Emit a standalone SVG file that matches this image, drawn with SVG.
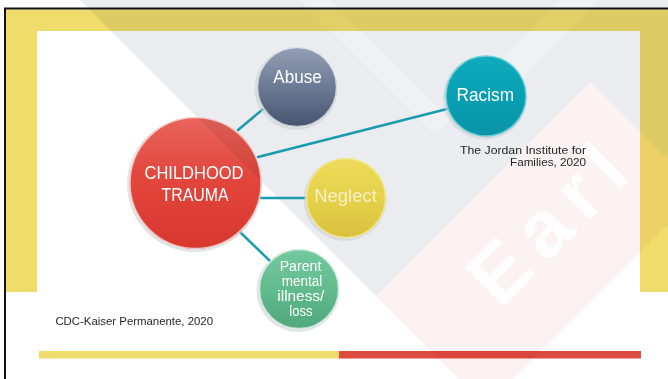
<svg xmlns="http://www.w3.org/2000/svg" width="668" height="379" viewBox="0 0 668 379">
<defs>
<style>
.lbl{font-family:"Liberation Sans",Arial,sans-serif;fill:#ffffff;text-anchor:middle}
.cite{font-family:"Liberation Sans",Arial,sans-serif;fill:#262626;font-size:11.5px}
.conn{stroke:#1b9bb0;stroke-width:2.5;fill:none;stroke-linecap:round}
.rim{fill:none;stroke:#ffffff;stroke-opacity:0.65;stroke-width:1.5}
.shadow{fill:#c9ced4;opacity:0.55}
</style>
<linearGradient id="gRed" x1="0" y1="0" x2="0" y2="1">
<stop offset="0" stop-color="#e9655c"/><stop offset="0.45" stop-color="#e2463c"/><stop offset="1" stop-color="#d8382d"/>
</linearGradient>
<linearGradient id="gAbuse" x1="0" y1="0" x2="0" y2="1">
<stop offset="0" stop-color="#939fb6"/><stop offset="0.5" stop-color="#6c7a94"/><stop offset="1" stop-color="#46556f"/>
</linearGradient>
<linearGradient id="gRacism" x1="0" y1="0" x2="0" y2="1">
<stop offset="0" stop-color="#12aabd"/><stop offset="0.5" stop-color="#07a0b3"/><stop offset="1" stop-color="#0a93a6"/>
</linearGradient>
<linearGradient id="gNeglect" x1="0" y1="0" x2="0" y2="1">
<stop offset="0" stop-color="#ecdb5a"/><stop offset="0.5" stop-color="#e5d14a"/><stop offset="1" stop-color="#d9c23e"/>
</linearGradient>
<linearGradient id="gParent" x1="0" y1="0" x2="0" y2="1">
<stop offset="0" stop-color="#74c9a0"/><stop offset="0.5" stop-color="#62bb8e"/><stop offset="1" stop-color="#4fa77c"/>
</linearGradient>
<clipPath id="cRed"><circle cx="195.5" cy="183" r="66"/></clipPath>
</defs>

<g id="background">
<rect x="0" y="0" width="668" height="379" fill="#ffffff"/>
<rect x="6" y="9.5" width="662" height="282.5" fill="#f0dc6b"/>
<rect x="37" y="31" width="603" height="261" fill="#ffffff"/>
<path d="M5,379 V8.5 H668" fill="none" stroke="#111111" stroke-width="2"/>
<rect x="39" y="351" width="300" height="7.5" fill="#efdb6a"/>
<rect x="339" y="351" width="302" height="7.5" fill="#dd4a3f"/>
<g style="mix-blend-mode:multiply">
<polygon points="80,0 668,0 668,224 513,379 459,379" fill="#ebecef"/>
<polygon points="376,296 590,82 700,192 486,406" fill="#fcf2f2"/>
<polygon points="300,0 330,0 450,120 435,135" fill="#ffffff" opacity="0.25"/>
<polygon points="560,0 600,0 520,80 500,60" fill="#ffffff" opacity="0.25"/>
<text x="0" y="0" transform="translate(500,310) rotate(-45)" font-family="Liberation Sans, Arial, sans-serif" font-weight="bold" font-size="80" letter-spacing="12" fill="#ffffff" fill-opacity="0.85">Earl</text>
</g>
</g>

<g id="connectors">
<line class="conn" x1="238" y1="130" x2="268" y2="105"/>
<line class="conn" x1="258" y1="157" x2="447" y2="109"/>
<line class="conn" x1="261" y1="198" x2="307" y2="198"/>
<line class="conn" x1="240" y1="232" x2="271" y2="262"/>
</g>

<g id="node-trauma">
<circle class="shadow" cx="194.5" cy="184.5" r="67.5"/>
<circle cx="195.5" cy="183" r="66" fill="url(#gRed)"/>
<polygon points="80,0 420,0 420,340" fill="#000000" opacity="0.06" clip-path="url(#cRed)"/>
<circle class="rim" cx="195.5" cy="183" r="65.5"/>
<text class="lbl" x="194" y="179" font-size="19" textLength="99" lengthAdjust="spacingAndGlyphs">CHILDHOOD</text>
<text class="lbl" x="195" y="201" font-size="19" textLength="67" lengthAdjust="spacingAndGlyphs">TRAUMA</text>
</g>

<g id="node-abuse">
<circle class="shadow" cx="296" cy="88.5" r="41.5"/>
<circle cx="297" cy="87" r="40" fill="url(#gAbuse)"/>
<circle class="rim" cx="297" cy="87" r="39.5"/>
<text class="lbl" x="297.5" y="82.5" font-size="17.5" textLength="48.5" lengthAdjust="spacingAndGlyphs">Abuse</text>
</g>

<g id="node-racism">
<circle class="shadow" cx="485" cy="97.5" r="42"/>
<circle cx="486" cy="96" r="40.5" fill="url(#gRacism)"/>
<circle cx="486" cy="96" r="40" fill="none" stroke="#8fe3ec" stroke-opacity="0.7" stroke-width="1.5"/>
<text class="lbl" x="485.3" y="100.7" font-size="18.5" textLength="57.5" lengthAdjust="spacingAndGlyphs">Racism</text>
</g>

<g id="node-neglect">
<circle class="shadow" cx="345" cy="199.5" r="41.5"/>
<circle cx="346" cy="198" r="40" fill="url(#gNeglect)"/>
<circle cx="346" cy="198" r="39.5" fill="none" stroke="#f6ec9c" stroke-opacity="0.8" stroke-width="1.5"/>
<text class="lbl" x="345.5" y="202" font-size="18" style="fill:#f5f0c6" textLength="62.5" lengthAdjust="spacingAndGlyphs">Neglect</text>
</g>

<g id="node-parent">
<circle class="shadow" cx="298" cy="290.5" r="41.5"/>
<circle cx="299" cy="289" r="40" fill="url(#gParent)"/>
<circle class="rim" cx="299" cy="289" r="39.5"/>
<text class="lbl" x="300.5" y="271" font-size="14" textLength="41.7" lengthAdjust="spacingAndGlyphs">Parent</text>
<text class="lbl" x="302" y="286" font-size="14" textLength="40.4" lengthAdjust="spacingAndGlyphs">mental</text>
<text class="lbl" x="300.8" y="301" font-size="14" textLength="47" lengthAdjust="spacingAndGlyphs">illness/</text>
<text class="lbl" x="301" y="315.7" font-size="14" textLength="23.4" lengthAdjust="spacingAndGlyphs">loss</text>
</g>

<g id="citations">
<text class="cite" x="586" y="154" text-anchor="end" textLength="126" lengthAdjust="spacingAndGlyphs">The Jordan Institute for</text>
<text class="cite" x="586" y="165.7" text-anchor="end" textLength="76" lengthAdjust="spacingAndGlyphs">Families, 2020</text>
<text class="cite" x="55.4" y="324.7" textLength="157.6" lengthAdjust="spacingAndGlyphs">CDC-Kaiser Permanente, 2020</text>
</g>
</svg>
